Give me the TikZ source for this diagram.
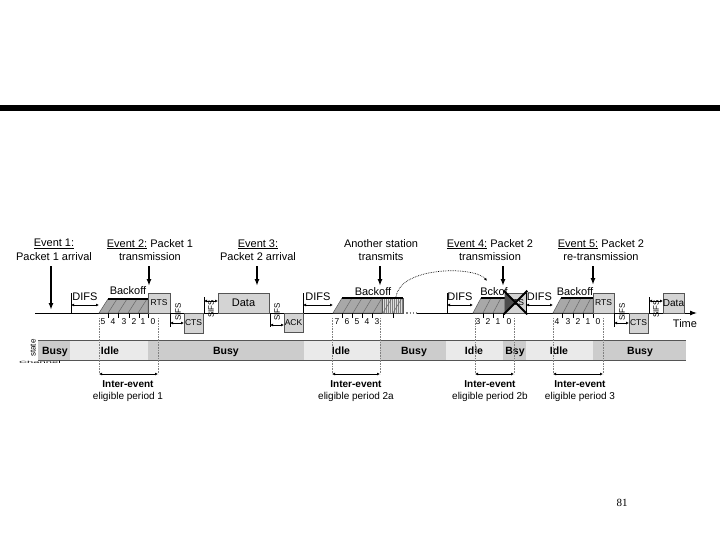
\documentclass[tikz,border=0pt]{standalone}
\usepackage{fontspec}
\setmainfont{Liberation Sans}
\newfontfamily\pagefont{Liberation Serif}
\usetikzlibrary{arrows.meta,positioning,calc}

\definecolor{busygray}{RGB}{204,204,204}
\definecolor{idlegray}{RGB}{234,234,234}
\definecolor{framegray}{RGB}{212,212,212}
\definecolor{backoffgray}{RGB}{168,168,168}
\definecolor{lightback}{RGB}{222,222,222}
\definecolor{edgegray}{RGB}{85,85,85}

\begin{document}
\begin{tikzpicture}[x=1pt, y=-1pt,
    font=\fontsize{11}{13.5}\selectfont,
    evarrow/.style={-{Latex[length=7pt,width=5pt]}, line width=1.4pt},
    gaparrow/.style={{Latex[length=3pt,width=3pt]}-{Latex[length=3pt,width=3pt]}, line width=0.6pt},
    frame/.style={draw=edgegray, fill=framegray, line width=0.6pt, inner sep=0pt, font=\fontsize{8.5}{9}\selectfont},
    sifslab/.style={rotate=90, inner sep=0pt, font=\fontsize{8}{8}\selectfont},
    slotnum/.style={inner sep=0pt, font=\fontsize{8.5}{9}\selectfont},
    statelab/.style={inner sep=0pt, anchor=base, font=\bfseries\fontsize{10.5}{12}\selectfont},
    period/.style={align=center, font=\fontsize{10}{12}\selectfont},
    guide/.style={densely dotted, gray, line width=0.6pt}]
    \useasboundingbox (0,0) rectangle (720,540);

    % Title rule
    \fill (0,105) rectangle (720,111);

    % Event labels
    \node[align=center] (ev1) at (54,250) {\underline{Event 1:}\\Packet 1 arrival};
    \node[align=center] (ev2) at (150,250) {\underline{Event 2:} Packet 1\\transmission};
    \node[align=center] (ev3) at (258,250) {\underline{Event 3:}\\Packet 2 arrival};
    \node[align=center] (other) at (381,250) {Another station\\transmits};
    \node[align=center] (ev4) at (490,250) {\underline{Event 4:} Packet 2\\transmission};
    \node[align=center] (ev5) at (601,250) {\underline{Event 5:} Packet 2\\re-transmission};

    % Event arrows
    \coordinate (a1) at (51,310);
    \coordinate (a2) at (149,286);
    \coordinate (a3) at (257,286);
    \coordinate (a4) at (380,286);
    \coordinate (a5) at (503,286);
    \coordinate (a6) at (593,285);
    \draw[evarrow] ($(ev1.south -| a1)+(0,2)$) -- (a1);
    \draw[evarrow] ($(ev2.south -| a2)+(0,2)$) -- (a2);
    \draw[evarrow] ($(ev3.south -| a3)+(0,2)$) -- (a3);
    \draw[evarrow] ($(other.south -| a4)+(0,2)$) -- (a4);
    \draw[evarrow] ($(ev4.south -| a5)+(0,2)$) -- (a5);
    \draw[evarrow] ($(ev5.south -| a6)+(0,2)$) -- (a6);

    % Time axis
    \draw[line width=1pt] (35,313) -- (403,313);
    \draw[line width=1.3pt, dotted, gray] (403,313) -- (417,313);
    \draw[-{Latex[length=7pt,width=5pt]}, line width=1pt] (417,313) -- (697,313);
    \node (time) at (685,324) {Time};

    % Backoff 1
    \filldraw[fill=backoffgray, draw=edgegray, line width=0.5pt] (99,313) -- (108,299) -- (148,299) -- (148,313) -- cycle;
    \foreach \x in {108,118,128,138} \draw[black!60, line width=0.5pt] (\x,313) -- ({\x+9},299);
    \draw[line width=1.2pt] (108,299) -- (148,299);
    \node (bo1) at (128,291) {Backoff};

    % Backoff 2 (frozen)
    \filldraw[fill=backoffgray, draw=edgegray, line width=0.5pt] (333,313) -- (342,298) -- (382,298) -- (382,313) -- cycle;
    \foreach \x in {343,353,363,373} \draw[black!60, line width=0.5pt] (\x,313) -- ({\x+9},298);
    \filldraw[fill=lightback, draw=edgegray, line width=0.5pt] (382,298) rectangle (403,313);
    \foreach \x in {384,386,...,402} \draw[gray, line width=0.3pt] (\x,298) -- (\x,313);
    \foreach \x in {383,393} \draw[black!60, line width=0.5pt] (\x,313) -- ({\x+9},298);
    \draw[line width=1.2pt] (342,298) -- (403,298);
    \node (bo2) at (373,292) {Backoff};

    % Backoff 3
    \filldraw[fill=backoffgray, draw=edgegray, line width=0.5pt] (473,313) -- (481,298) -- (505,298) -- (505,313) -- cycle;
    \foreach \x in {483,493} \draw[black!60, line width=0.5pt] (\x,313) -- ({\x+8},298);
    \draw[line width=1.2pt] (481,298) -- (505,298);
    \node (bo3) at (494,292) {Bckof};

    % Backoff 4
    \filldraw[fill=backoffgray, draw=edgegray, line width=0.5pt] (553,313) -- (561,298) -- (593,298) -- (593,313) -- cycle;
    \foreach \x in {563,573,583} \draw[black!60, line width=0.5pt] (\x,313) -- ({\x+8},298);
    \draw[line width=1.2pt] (561,298) -- (593,298);
    \node (bo4) at (575,292) {Backoff};

    % Backoff freeze carried over
    \coordinate (frz) at (396,297);
    \coordinate (resume) at (487,281);
    \draw[densely dotted, line width=0.7pt, -{Latex[length=3pt,width=2.5pt]}] (frz) .. controls (400,266) and (475,266) .. (resume);

    % Slot ticks and counters
    \foreach \x in {108,118,129,139,148,342,352,362,372,393,483,493,503,562,573,583,593}
        \draw[line width=0.5pt] (\x,313) -- (\x,318);
    \foreach \x/\n in {103/5,113/4,124/3,134/2,143/1,153/0,
                       337/7,347/6,357/5,367/4,377/3,
                       478/3,488/2,498/1,509/0,
                       557/4,568/3,578/2,588/1,598/0}
        \node[slotnum] (n\x) at (\x,322) {\n};

    % Frames
    \node[frame, minimum width=22pt, minimum height=20pt] (rts1) at (159,303) {RTS};
    \node[frame, minimum width=19pt, minimum height=20pt] (cts1) at (193.5,323) {CTS};
    \node[frame, minimum width=51pt, minimum height=20pt, font=\fontsize{11}{12}\selectfont] (data1) at (243.5,303) {Data};
    \node[frame, minimum width=19pt, minimum height=19pt] (ack1) at (293.5,322.5) {ACK};
    \node[frame, minimum width=21pt, minimum height=20pt] (rts2) at (515.5,303) {RTS};
    \fill[black!70] (rts2.north west) -- (rts2.center) -- (rts2.south west) -- cycle;
    \draw[line width=2pt] ([shift={(-1pt,2pt)}]rts2.north west) -- ([shift={(1pt,-1pt)}]rts2.south east);
    \draw[line width=2pt] ([shift={(1pt,2pt)}]rts2.north east) -- ([shift={(-1pt,-1pt)}]rts2.south west);
    \node[frame, minimum width=21pt, minimum height=20pt] (rts3) at (603.5,303) {RTS};
    \node[frame, minimum width=19pt, minimum height=20pt] (cts3) at (638.5,323) {CTS};
    \node[frame, minimum width=21pt, minimum height=20pt, font=\fontsize{10}{11}\selectfont] (data3) at (673.5,303) {Data};

    % DIFS
    \foreach \a/\b in {71/99,303/333,447/473,526/553} {
        \draw[line width=0.6pt] (\a,293) -- (\a,313);
        \draw[gaparrow] (\a,305) -- (\b,305);
        \node (difs\a) at ({(\a+\b)/2},297) {DIFS};
    }

    % SIFS
    \foreach \a/\b/\y/\t/\ty in {170/184/323/178/312, 204/218/301/211/309, 270/284/325/277/312,
                                  614/629/323/622/312, 649/663/301/656/309} {
        \ifdim \y pt > 313pt
            \draw[line width=0.6pt] (\a,313) -- (\a,327);
        \else
            \draw[line width=0.6pt] (\a,297) -- (\a,313);
        \fi
        \draw[gaparrow] (\a,\y) -- (\b,\y);
        \node[sifslab] (sifs\a) at (\t,\ty) {SIFS};
    }

    % Channel state bar
    \fill[busygray] (38,340) rectangle (70,360);
    \fill[idlegray] (70,340) rectangle (148,360);
    \fill[busygray] (148,340) rectangle (304,360);
    \fill[idlegray] (304,340) rectangle (380,360);
    \fill[busygray] (380,340) rectangle (446,360);
    \fill[idlegray] (446,340) rectangle (503,360);
    \fill[busygray] (503,340) rectangle (526,360);
    \fill[idlegray] (526,340) rectangle (593,360);
    \fill[busygray] (593,340) rectangle (686,360);
    \draw[edgegray, line width=0.8pt] (38,340) -- (686,340);
    \draw[edgegray, line width=0.8pt] (38,360) -- (686,360);
    \node[statelab] (s1) at (55,354) {Busy};
    \node[statelab] (s2) at (110,354) {Idle};
    \node[statelab] (s3) at (226,354) {Busy};
    \node[statelab] (s4) at (341,354) {Idle};
    \node[statelab] (s5) at (414,354) {Busy};
    \node[statelab] (s6) at (474,354) {Idle};
    \node[statelab] (s7) at (515,354) {Bsy};
    \node[statelab] (s8) at (559,354) {Idle};
    \node[statelab] (s9) at (640,354) {Busy};
    \node[sifslab] (chstate) at (33,348) {state};
    \node[inner sep=0pt, xscale=1.6, yscale=0.45, font=\fontsize{7}{7}\selectfont] (chname) at (40,362) {Channel};

    % Inter-event eligible periods
    \foreach \a/\b/\n in {99/158/1,332/380/2a,475/514/2b,553/603/3} {
        \draw[guide] (\a,318) -- (\a,374);
        \draw[guide] (\b,318) -- (\b,374);
        \coordinate (pl\n) at (\a,374);
        \coordinate (pr\n) at (\b,374);
        \draw[gaparrow, line width=0.8pt] (pl\n) -- (pr\n);
    }
    \node[period] (p1) at (128,391) {\textbf{Inter-event}\\eligible period 1};
    \node[period] (p2a) at (356,391) {\textbf{Inter-event}\\eligible period 2a};
    \node[period] (p2b) at (490,391) {\textbf{Inter-event}\\eligible period 2b};
    \node[period] (p3) at (580,391) {\textbf{Inter-event}\\eligible period 3};

    % Page number
    \node[font=\pagefont\fontsize{11}{12}\selectfont] (page) at (622,503) {81};
\end{tikzpicture}
\end{document}
